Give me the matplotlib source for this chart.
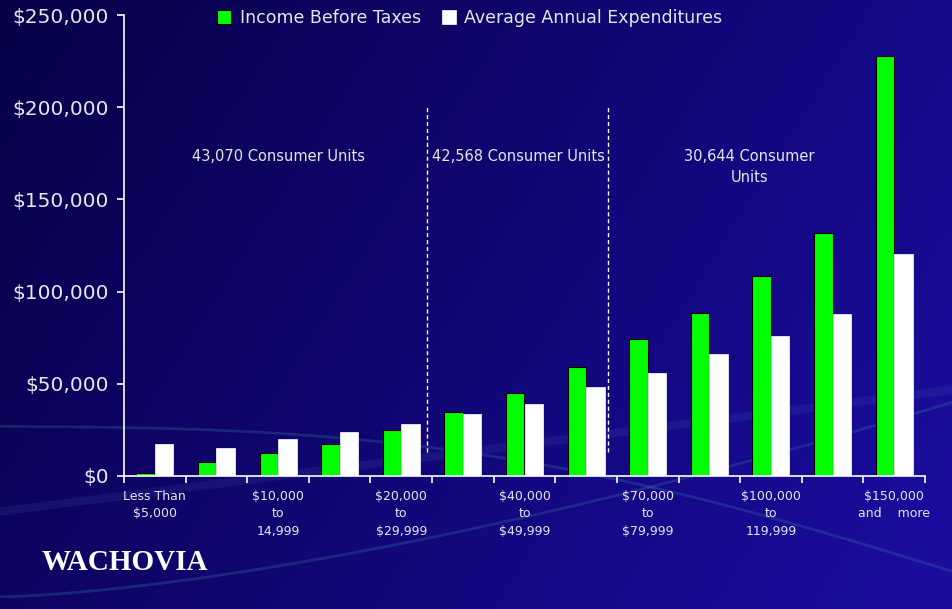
import matplotlib.pyplot as plt
import numpy as np

# income brackets (13 groups, only every other one gets a label)
tick_labels = ['Less Than\n$5,000', '$10,000\nto\n14,999', '$20,000\nto\n$29,999',
               '$40,000\nto\n$49,999', '$70,000\nto\n$79,999', '$100,000\nto\n119,999',
               '$150,000\nand    more']
income = [1500, 7800, 12500, 17400, 24900, 34700, 45000, 59100, 74300, 88400, 108500, 131800, 227800]
expend = [17500, 15300, 20100, 24000, 28400, 33800, 39200, 48400, 55900, 66200, 75900, 87900, 120400]

# consumer-unit groups: (text, x centre in category units)
groups = [('43,070 Consumer Units', 2.0), ('42,568 Consumer Units', 5.9), ('30,644 Consumer\nUnits', 9.65)]
dividers = [4.42, 7.35]

txt = '#e6e6f0'
fig = plt.figure(figsize=(9.53, 6.09), dpi=100)

# background gradient + faint swooshes
bg = fig.add_axes([0, 0, 1, 1], zorder=-10)
gx, gy = np.meshgrid(np.linspace(0, 1, 200), np.linspace(0, 1, 200))
t = np.clip(0.75 * gx + 0.3 * gy, 0, 1)
c0 = np.array([0.03, 0.0, 0.28])
c1 = np.array([0.10, 0.05, 0.62])
img = c0[None, None, :] * (1 - t[..., None]) + c1[None, None, :] * t[..., None]
bg.imshow(img, extent=[0, 1, 0, 1], aspect='auto', origin='upper')
s = np.linspace(0, 1, 200)
bg.plot(s, 0.30 - 0.25 * s + 0.08 * np.sin(3 * s), color='#3fa0b0', alpha=0.22, lw=2)
bg.plot(s, 0.02 + 0.32 * s ** 1.5, color='#3fa0b0', alpha=0.22, lw=2)
bg.plot(s, 0.16 + 0.20 * s, color='#5f7fd0', alpha=0.12, lw=6)
bg.set_xlim(0, 1)
bg.set_ylim(0, 1)
bg.axis('off')

ax = fig.add_axes([124 / 953, 1 - 476 / 609, 801 / 953, 461 / 609])
ax.set_facecolor('none')

x = np.arange(len(income))
w = 0.3
ax.bar(x - w / 2, income, w, color='#00ff00', edgecolor='black', linewidth=0.8,
       label='Income Before Taxes')
ax.bar(x + w / 2, expend, w, color='white', edgecolor='white', linewidth=0.5,
       label='Average Annual Expenditures')

ax.set_xlim(-0.5, len(income) - 0.5)
ax.set_ylim(0, 250000)
ax.set_yticks(np.arange(0, 250001, 50000))
ax.set_yticklabels(['$0' if v == 0 else f'${v:,.0f}' for v in np.arange(0, 250001, 50000)])

ax.set_xticks(np.arange(-0.5, len(income), 1))
ax.set_xticklabels([])
ax.set_xticks(np.arange(0, len(income), 2), minor=True)
ax.set_xticklabels(tick_labels, minor=True, fontsize=9, color=txt, linespacing=1.45, va='top')
ax.tick_params(axis='x', which='minor', length=0, pad=10)
ax.tick_params(axis='x', which='major', length=5, color='white', width=1.2)
ax.tick_params(axis='y', length=5, color='white', width=1.2, labelsize=14.5, labelcolor=txt, pad=6)

for sp in ['top', 'right']:
    ax.spines[sp].set_visible(False)
for sp in ['left', 'bottom']:
    ax.spines[sp].set_color('white')
    ax.spines[sp].set_linewidth(1.2)

for d in dividers:
    ax.vlines(d, 13000, 201000, colors='white', linestyles=(0, (3, 2)), linewidth=1)
for label, gxp in groups:
    ax.text(gxp, 177500, label, ha='center', va='top', fontsize=10.5, color=txt, linespacing=1.5)

leg = fig.legend(loc='center', bbox_to_anchor=(470 / 953, 1 - 18 / 609), ncol=2, frameon=False,
                 fontsize=12.5, handlelength=0.8, handleheight=0.8, handletextpad=0.5,
                 columnspacing=1.2, labelcolor=txt)

fig.text(42 / 953, 1 - 563 / 609, 'WACHOVIA', family='Liberation Serif', fontweight='bold',
         fontsize=21, color='white', va='center', ha='left')

fig.savefig('out.png', dpi=100)
